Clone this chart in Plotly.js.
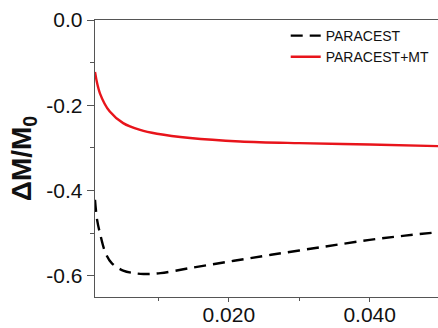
<!DOCTYPE html>
<html>
<head>
<script src="https://cdn.plot.ly/plotly-3.0.1.min.js"></script>
<style>html,body{margin:0;padding:0;background:#fff;}#chart{width:438px;height:328px;}</style>
</head>
<body>
<div id="chart"></div>
<script>
const seriesNames = ["PARACEST", "PARACEST+MT"];
const xParacest = [0.001, 0.0013, 0.0017, 0.0025, 0.0034, 0.0050, 0.0065, 0.0079, 0.0103, 0.0145, 0.020, 0.026, 0.0335, 0.040, 0.045, 0.0497];
const yParacest = [-0.422, -0.469, -0.50, -0.547, -0.571, -0.588, -0.594, -0.596, -0.594, -0.582, -0.567, -0.551, -0.532, -0.516, -0.506, -0.498];
const xMT = [0.001, 0.0017, 0.0031, 0.0050, 0.0074, 0.0098, 0.0145, 0.0216, 0.030, 0.040, 0.0497];
const yMT = [-0.122, -0.172, -0.215, -0.242, -0.258, -0.267, -0.277, -0.285, -0.289, -0.292, -0.296];
const xTickVals = [0.02, 0.04];
const xTickText = ["0.020", "0.040"];
const yTickVals = [0, -0.2, -0.4, -0.6];
const yTickText = ["0.0", "-0.2", "-0.4", "-0.6"];

const data = [
  {x: xParacest, y: yParacest, name: seriesNames[0], mode: "lines",
   line: {color: "#000", width: 2.4, dash: "12px,7px", shape: "spline"}},
  {x: xMT, y: yMT, name: seriesNames[1], mode: "lines",
   line: {color: "#e8141b", width: 2.4, shape: "spline"}}
];
const axisCol = "#555";
const layout = {
  width: 438, height: 328,
  margin: {l: 95, r: 0, t: 20, b: 31},
  paper_bgcolor: "#fff", plot_bgcolor: "#fff",
  font: {family: "Liberation Sans, Arial, sans-serif", color: "#111"},
  showlegend: true,
  legend: {x: 0.556, y: 1.0, xanchor: "left", yanchor: "top", bgcolor: "rgba(0,0,0,0)",
           font: {size: 14, color: "#111"}, tracegroupgap: 0},
  xaxis: {range: [0.001, 0.0497], showgrid: false, zeroline: false,
          showline: true, linecolor: axisCol, linewidth: 1.3, mirror: true,
          ticks: "outside", ticklen: 4, tickcolor: axisCol, tickwidth: 1,
          ticklabelstandoff: -6,
          tickvals: xTickVals, ticktext: xTickText, tickfont: {size: 21, color: "#111"},
          minor: {tickvals: [0.01, 0.03], ticks: "outside", ticklen: 3, tickcolor: axisCol}},
  yaxis: {range: [-0.65, 0], showgrid: false, zeroline: false,
          showline: true, linecolor: axisCol, linewidth: 1.3,
          ticks: "outside", ticklen: 7, tickcolor: axisCol, tickwidth: 1,
          tickvals: yTickVals, ticktext: yTickText, tickfont: {size: 21, color: "#111"},
          minor: {tickvals: [-0.1, -0.3, -0.5], ticks: "outside", ticklen: 4, tickcolor: axisCol},
          title: {text: "<b>ΔM/M<sub>0</sub></b>", font: {family: "Liberation Sans Narrow, Arial Narrow, Liberation Sans, sans-serif", size: 28, color: "#111"}, standoff: 6}}
};
Plotly.newPlot("chart", data, layout, {displayModeBar: false, staticPlot: true});
</script>
</body>
</html>
